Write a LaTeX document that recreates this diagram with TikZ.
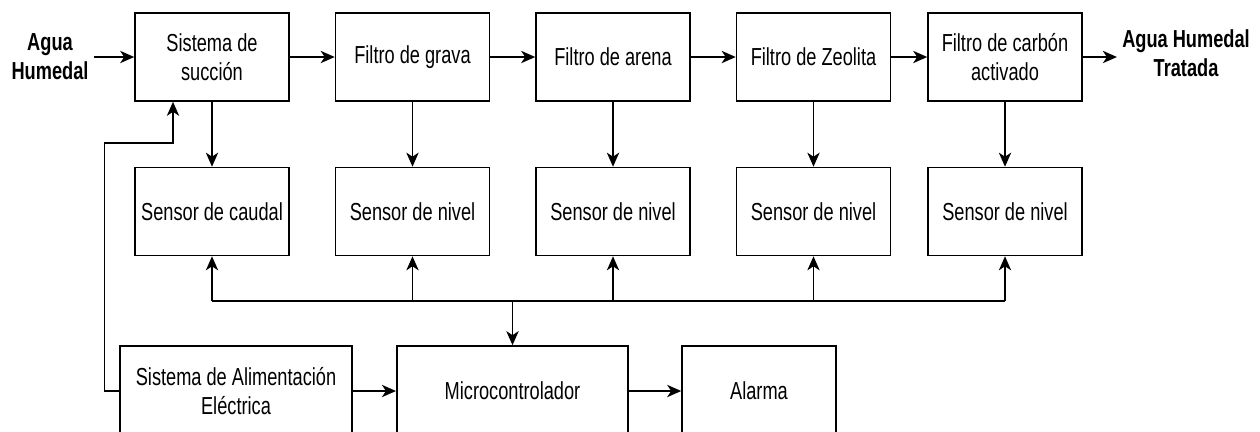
\documentclass[tikz,border=0pt]{standalone}
\usepackage{fontspec}
\setmainfont[FakeStretch=0.74]{Liberation Sans}
\usetikzlibrary{arrows.meta}
\begin{document}
\begin{tikzpicture}[>={Stealth[length=8pt,width=7pt,inset=2.3pt]},
	every node/.style={font=\fontsize{14}{16.5}\selectfont},
	block/.style={draw,line width=0.9pt,minimum width=3.08cm,minimum height=1.76cm,align=center,inner sep=1pt},
	wideblock/.style={block,minimum width=4.63cm,minimum height=1.8cm},
	io/.style={align=center,inner sep=0.1cm,font=\fontsize{14}{16.5}\selectfont\bfseries},
	flow/.style={line width=0.9pt}]
	\clip (0,0) rectangle (25.2,-8.62);
	
	\node[io] (In) at (1.0,-1.14) {Agua\\Humedal};
	\node[io] (Out) at (23.72,-1.06) {Agua Humedal\\Tratada};
	
	\node[block] (Suc) at (4.24,-1.14) {Sistema de\\succión};
	\node[block] (Grav) at (8.25,-1.14) {Filtro de grava};
	\node[block] (Aren) at (12.26,-1.14) {Filtro de arena};
	\node[block] (Zeo) at (16.27,-1.14) {Filtro de Zeolita};
	\node[block] (Carb) at (20.1,-1.14) {Filtro de carbón\\activado};
	
	\node[block] (SCau) at (4.24,-4.23) {Sensor de caudal};
	\node[block] (SGrav) at (8.25,-4.23) {Sensor de nivel};
	\node[block] (SAren) at (12.26,-4.23) {Sensor de nivel};
	\node[block] (SZeo) at (16.27,-4.23) {Sensor de nivel};
	\node[block] (SCarb) at (20.1,-4.23) {Sensor de nivel};
	
	\node[wideblock] (Alim) at (4.72,-7.82) {Sistema de Alimentación\\Eléctrica};
	\node[wideblock] (Mic) at (10.25,-7.82) {Microcontrolador};
	\node[block,minimum height=1.8cm] (Alar) at (15.18,-7.82) {Alarma};
	
	% main line
	\draw [flow,->] (In) -- (Suc);
	\draw [flow,->] (Suc) -- (Grav);
	\draw [flow,->] (Grav) -- (Aren);
	\draw [flow,->] (Aren) -- (Zeo);
	\draw [flow,->] (Zeo) -- (Carb);
	\draw [flow,->] (Carb.east) -- (Carb.east -| Out.west);
	
	\draw [flow,->] (Suc) -- (SCau);
	\draw [flow,->] (Grav) -- (SGrav);
	\draw [flow,->] (Aren) -- (SAren);
	\draw [flow,->] (Zeo) -- (SZeo);
	\draw [flow,->] (Carb) -- (SCarb);
	
	% sensor bus
	\coordinate (bus) at (10.25,-6.02);
	\draw [flow] (SCau.south |- bus) -- (SCarb.south |- bus);
	\draw [flow,->] (bus) -- (Mic);
	\draw [flow,->] (SCau.south |- bus) -- (SCau);
	\draw [flow,->] (SGrav.south |- bus) -- (SGrav);
	\draw [flow,->] (SAren.south |- bus) -- (SAren);
	\draw [flow,->] (SZeo.south |- bus) -- (SZeo);
	\draw [flow,->] (SCarb.south |- bus) -- (SCarb);
	
	\draw [flow,->] (Alim) -- (Mic);
	\draw [flow,->] (Mic) -- (Alar);
	
	% power back to the pump
	\coordinate (fb) at (3.46,-2.86);
	\draw [flow,->] (Alim.west) -- ++(-0.3,0) |- (fb) -- (fb |- Suc.south);
\end{tikzpicture}
\end{document}
